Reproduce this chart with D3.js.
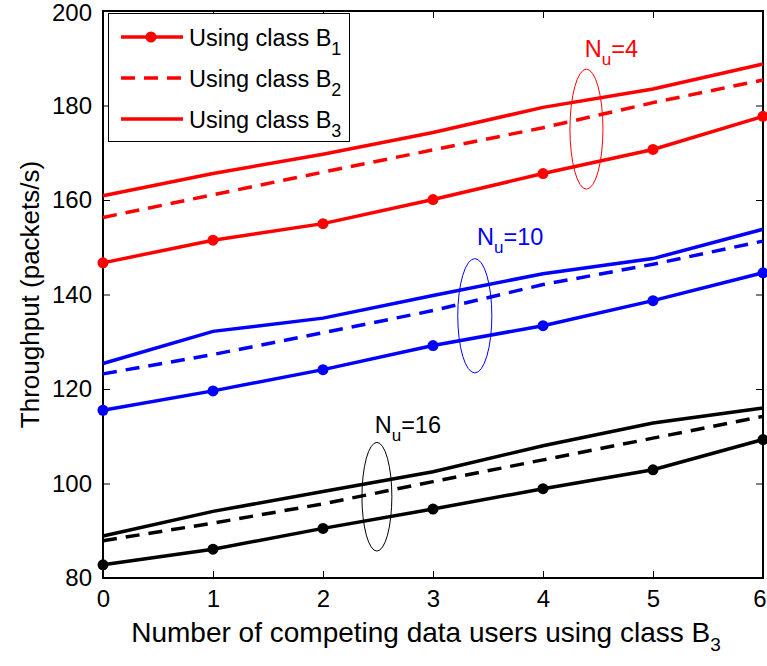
<!DOCTYPE html>
<html>
<head>
<meta charset="utf-8">
<script src="https://cdn.jsdelivr.net/npm/d3@7"></script>
<style>
  html, body { margin: 0; padding: 0; background: #fff; }
  svg { display: block; font-family: "Liberation Sans", Arial, Helvetica, sans-serif; }
</style>
</head>
<body>
<svg id="chart" width="767" height="666"></svg>
<script>
// Number of competing data users using class B3
const users = [0, 1, 2, 3, 4, 5, 6];

// Throughput (packets/s), N_u = 4
const nu4ClassB1 = [146.7, 151.5, 155.0, 160.1, 165.6, 170.7, 177.7];
const nu4ClassB2 = [156.3, 161.1, 165.9, 170.6, 175.3, 180.6, 185.4];
const nu4ClassB3 = [160.9, 165.6, 169.7, 174.3, 179.6, 183.5, 188.8];

// Throughput (packets/s), N_u = 10
const nu10ClassB1 = [115.5, 119.6, 124.1, 129.2, 133.4, 138.7, 144.6];
const nu10ClassB2 = [123.2, 127.3, 131.9, 136.6, 142.1, 146.4, 151.3];
const nu10ClassB3 = [125.4, 132.2, 135.0, 139.8, 144.4, 147.6, 153.8];

// Throughput (packets/s), N_u = 16
const nu16ClassB1 = [82.8, 86.1, 90.5, 94.6, 98.9, 102.9, 109.3];
const nu16ClassB2 = [87.9, 91.6, 95.7, 100.4, 105.0, 109.6, 114.2];
const nu16ClassB3 = [88.9, 94.1, 98.3, 102.5, 108.0, 112.8, 116.0];

const xTicks = [0, 1, 2, 3, 4, 5, 6];
const yTicks = [80, 100, 120, 140, 160, 180, 200];

const groups = [
  { nu: "4",  color: "#ff0000", b1: nu4ClassB1,  b2: nu4ClassB2,  b3: nu4ClassB3,
    ellipse: { x: 4.395, y: 175.0, rx: 0.15, ry: 12.7 }, label: { x: 4.38, y: 190.3 } },
  { nu: "10", color: "#0000ff", b1: nu10ClassB1, b2: nu10ClassB2, b3: nu10ClassB3,
    ellipse: { x: 3.38, y: 135.5, rx: 0.155, ry: 12.1 }, label: { x: 3.4, y: 150.5 } },
  { nu: "16", color: "#000000", b1: nu16ClassB1, b2: nu16ClassB2, b3: nu16ClassB3,
    ellipse: { x: 2.49, y: 97.2, rx: 0.136, ry: 11.5 }, label: { x: 2.47, y: 110.7 } }
];

const legendItems = [
  { name: "1", dash: null, marker: true },
  { name: "2", dash: "14,9", marker: false },
  { name: "3", dash: null, marker: false }
];

const margin = { left: 103, right: 4, top: 11, bottom: 88 };
const width = 767, height = 666;
const fontTick = 24, fontLegend = 23.5, fontSub = 18;
const svg = d3.select("#chart");

const x = d3.scaleLinear().domain([0, 6]).range([margin.left, width - margin.right]);
const y = d3.scaleLinear().domain([80, 200]).range([height - margin.bottom, margin.top]);

const x0 = x.range()[0], x1 = x.range()[1];
const y0 = y.range()[0], y1 = y.range()[1];

// axes: ticks point inward, mirrored on the opposite sides
const tickLen = 7;
const bottomAxis = d3.axisBottom(x).tickValues(xTicks).tickFormat(d3.format("d"))
  .tickSizeInner(-tickLen).tickSizeOuter(0).tickPadding(12);
const leftAxis = d3.axisLeft(y).tickValues(yTicks).tickFormat(d3.format("d"))
  .tickSizeInner(-tickLen).tickSizeOuter(0).tickPadding(11);
const topAxis = d3.axisTop(x).tickValues(xTicks).tickSizeInner(-tickLen).tickSizeOuter(0).tickFormat("");
const rightAxis = d3.axisRight(y).tickValues(yTicks).tickSizeInner(-tickLen).tickSizeOuter(0).tickFormat("");

function styleAxis(g) {
  g.select(".domain").remove();
  g.selectAll(".tick line").attr("stroke", "#000").attr("stroke-width", 1);
  g.selectAll(".tick text").attr("fill", "#000").attr("font-size", fontTick)
    .attr("font-family", "'Liberation Sans', Arial, sans-serif");
}

svg.append("g").attr("transform", `translate(0,${y0})`).call(bottomAxis).call(styleAxis);
svg.append("g").attr("transform", `translate(${x0},0)`).call(leftAxis).call(styleAxis);
svg.append("g").attr("transform", `translate(0,${y1})`).call(topAxis).call(styleAxis);
svg.append("g").attr("transform", `translate(${x1},0)`).call(rightAxis).call(styleAxis);

// the last x tick label sits against the right edge of the window
svg.selectAll("g .tick text").filter(d => d === 6).attr("text-anchor", "end").attr("dx", 3);
// keep the top y tick label inside the window
svg.selectAll("g .tick text").filter(d => d === 200).attr("dy", "0.38em");

// plot box
svg.append("rect")
  .attr("x", x0).attr("y", y1).attr("width", x1 - x0).attr("height", y0 - y1)
  .attr("fill", "none").attr("stroke", "#000").attr("stroke-width", 2);

// series
const line = d3.line().x((d, i) => x(users[i])).y(d => y(d));
const plot = svg.append("g");

groups.forEach(g => {
  plot.append("path").datum(g.b3).attr("d", line)
    .attr("fill", "none").attr("stroke", g.color).attr("stroke-width", 3.5);
  plot.append("path").datum(g.b2).attr("d", line)
    .attr("fill", "none").attr("stroke", g.color).attr("stroke-width", 3.5)
    .attr("stroke-dasharray", "14,9");
  plot.append("path").datum(g.b1).attr("d", line)
    .attr("fill", "none").attr("stroke", g.color).attr("stroke-width", 3.5);
  plot.selectAll(null).data(g.b1).enter().append("circle")
    .attr("cx", (d, i) => x(users[i])).attr("cy", d => y(d)).attr("r", 5.5)
    .attr("fill", g.color);

  // grouping ellipse
  plot.append("ellipse")
    .attr("cx", x(g.ellipse.x)).attr("cy", y(g.ellipse.y))
    .attr("rx", x(g.ellipse.x + g.ellipse.rx) - x(g.ellipse.x))
    .attr("ry", y(g.ellipse.y) - y(g.ellipse.y + g.ellipse.ry))
    .attr("fill", "none").attr("stroke", g.color).attr("stroke-width", 1);

  // N_u label
  const t = plot.append("text")
    .attr("x", x(g.label.x)).attr("y", y(g.label.y))
    .attr("fill", g.color).attr("font-size", 23.5);
  t.append("tspan").text("N");
  t.append("tspan").attr("dy", 8).attr("font-size", 17).text("u");
  t.append("tspan").attr("dy", -8).text("=" + g.nu);
});

// legend
const legend = svg.append("g");
legend.append("rect")
  .attr("x", 108.5).attr("y", 13.5).attr("width", 241).attr("height", 128)
  .attr("fill", "#fff").attr("stroke", "#000").attr("stroke-width", 1);

legendItems.forEach((item, i) => {
  const ly = 37 + i * 41;
  legend.append("line")
    .attr("x1", 121).attr("x2", 183).attr("y1", ly).attr("y2", ly)
    .attr("stroke", "#ff0000").attr("stroke-width", 3.5)
    .attr("stroke-dasharray", item.dash);
  if (item.marker) {
    legend.append("circle").attr("cx", 151).attr("cy", ly).attr("r", 5.5).attr("fill", "#ff0000");
  }
  const t = legend.append("text").attr("x", 189).attr("y", ly + 8.5)
    .attr("font-size", fontLegend).attr("fill", "#000");
  t.append("tspan").text("Using class B");
  t.append("tspan").attr("dy", 9).attr("font-size", fontSub).text(item.name);
});

// axis titles
const xt = svg.append("text")
  .attr("x", 426).attr("y", 642).attr("text-anchor", "middle")
  .attr("font-size", 28).attr("fill", "#000");
xt.append("tspan").text("Number of competing data users using class B");
xt.append("tspan").attr("dy", 9).attr("font-size", 19).text("3");

svg.append("text")
  .attr("transform", `translate(39,${(y0 + y1) / 2}) rotate(-90)`)
  .attr("text-anchor", "middle").attr("font-size", 26).attr("fill", "#000")
  .text("Throughput (packets/s)");
</script>
</body>
</html>
